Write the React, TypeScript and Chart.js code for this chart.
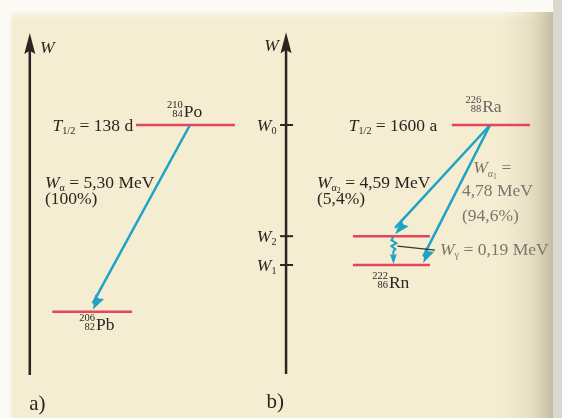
import React, { useEffect, useRef } from "react";
import { Chart, registerables } from "chart.js";

Chart.register(...registerables);

// ---- Data (schematic diagram units: x = horizontal position 0–100, y = energy W 0–100) ----
const panelNames = ["a)", "b)"];
const axisX = [5.3, 50.9];
const axisMin = [10.3, 10.5];
const axisMax = [92.1, 92.3];

// energy levels: 0 Po-210, 1 Pb-206, 2 Ra-226, 3 Rn-222 (excited), 4 Rn-222
const levelW = [70.1, 25.4, 70.1, 43.5, 36.6];
const levelStart = [24.2, 9.3, 80.4, 62.8, 62.8];
const levelEnd = [41.8, 23.5, 94.3, 76.5, 76.5];

// alpha transitions
const alphaFrom = [0, 2, 2];
const alphaTo = [1, 3, 4];
const alphaStartX = [33.8, 87.2, 87.2];
const alphaEndX = [16.5, 70.3, 75.3];
const alphaEnergy = ["5,30", "4,59", "4,78"];
const alphaShare = ["100%", "5,4%", "94,6%"];

// gamma transition
const gammaX = [70.0];
const gammaFrom = [3];
const gammaTo = [4];
const gammaEnergy = ["0,19"];

const halfLives = ["138 d", "1600 a"];
const nuclideSymbol = ["Po", "Pb", "Ra", "Rn"];
const nuclideA = ["210", "206", "226", "222"];
const nuclideZ = ["84", "82", "88", "86"];
const tickLevel = [2, 3, 4];
const tickIndex = ["0", "2", "1"];

const RED = "#e2465f";
const CYAN = "#1ea3c4";
const INK = "#2b2521";
const GREY = "#7a766d";
const SERIF = '"Liberation Serif", "DejaVu Serif", serif';
const FS = 17.5;

type Seg = { t: string; it?: boolean; lvl?: number };

function segFont(s: Seg, size: number) {
  const l = s.lvl || 0;
  const fs = l === 0 ? size : l === 1 ? size * 0.58 : size * 0.45;
  return { font: `${s.it ? "italic " : ""}${fs}px ${SERIF}`, dy: l === 0 ? 0 : l === 1 ? size * 0.18 : size * 0.3 };
}

function drawRich(ctx: CanvasRenderingContext2D, x: number, y: number, segs: Seg[], color: string, align = "left", size = FS) {
  let total = 0;
  const widths: number[] = [];
  for (const s of segs) {
    ctx.font = segFont(s, size).font;
    const w = ctx.measureText(s.t).width;
    widths.push(w);
    total += w;
  }
  let cx = align === "right" ? x - total : align === "center" ? x - total / 2 : x;
  ctx.fillStyle = color;
  ctx.textBaseline = "alphabetic";
  ctx.textAlign = "left";
  segs.forEach((s, i) => {
    const f = segFont(s, size);
    ctx.font = f.font;
    ctx.fillText(s.t, cx, y + f.dy);
    cx += widths[i];
  });
}

function drawNuclide(ctx: CanvasRenderingContext2D, x: number, y: number, i: number, color: string, numColor = color) {
  ctx.textBaseline = "alphabetic";
  ctx.font = `${FS}px ${SERIF}`;
  ctx.fillStyle = color;
  ctx.textAlign = "left";
  ctx.fillText(nuclideSymbol[i], x, y);
  ctx.font = `10.5px ${SERIF}`;
  ctx.textAlign = "right";
  ctx.fillStyle = numColor;
  ctx.fillText(nuclideA[i], x - 1, y - 9);
  ctx.fillText(nuclideZ[i], x - 1, y);
}

function arrowHead(ctx: CanvasRenderingContext2D, x0: number, y0: number, x1: number, y1: number, len: number, half: number, color: string) {
  const a = Math.atan2(y1 - y0, x1 - x0);
  ctx.fillStyle = color;
  ctx.beginPath();
  ctx.moveTo(x1, y1);
  ctx.lineTo(x1 - len * Math.cos(a) + half * Math.sin(a), y1 - len * Math.sin(a) - half * Math.cos(a));
  ctx.lineTo(x1 - len * Math.cos(a) * 0.85, y1 - len * Math.sin(a) * 0.85);
  ctx.lineTo(x1 - len * Math.cos(a) - half * Math.sin(a), y1 - len * Math.sin(a) + half * Math.cos(a));
  ctx.closePath();
  ctx.fill();
}

const diagramPlugin = {
  id: "decayDiagram",
  beforeDraw(chart: any) {
    const { ctx, width, height } = chart;
    ctx.save();
    ctx.fillStyle = "#fbfaf5";
    ctx.fillRect(0, 0, width, height);
    ctx.fillStyle = "#f4edd2";
    ctx.fillRect(10, 12, width - 10, height - 12);
    const tg = ctx.createLinearGradient(0, 8, 0, 20);
    tg.addColorStop(0, "rgba(251,250,245,1)");
    tg.addColorStop(1, "rgba(251,250,245,0)");
    ctx.fillStyle = tg;
    ctx.fillRect(0, 8, width, 12);
    const lg = ctx.createLinearGradient(6, 0, 14, 0);
    lg.addColorStop(0, "rgba(251,250,245,1)");
    lg.addColorStop(1, "rgba(251,250,245,0)");
    ctx.fillStyle = lg;
    ctx.fillRect(6, 0, 8, height);
    const rg = ctx.createLinearGradient(500, 0, 553, 0);
    rg.addColorStop(0, "rgba(226,216,186,0)");
    rg.addColorStop(0.6, "rgba(215,205,175,0.5)");
    rg.addColorStop(1, "rgba(190,182,156,0.9)");
    ctx.fillStyle = rg;
    ctx.fillRect(500, 12, 53, height - 12);
    ctx.fillStyle = "#d9d7cf";
    ctx.fillRect(553, 0, width - 553, height);
    ctx.restore();
  },
  afterDatasetsDraw(chart: any) {
    const { ctx } = chart;
    const xs = chart.scales.x;
    const ys = chart.scales.y;
    const X = (v: number) => xs.getPixelForValue(v);
    const Y = (v: number) => ys.getPixelForValue(v);
    ctx.save();

    // axis arrowheads
    axisX.forEach((ax, i) => {
      arrowHead(ctx, X(ax), Y(axisMin[i]), X(ax), Y(axisMax[i]), 21, 5.5, INK);
    });

    // alpha arrowheads
    alphaFrom.forEach((f, i) => {
      arrowHead(ctx, X(alphaStartX[i]), Y(levelW[f]), X(alphaEndX[i]), Y(levelW[alphaTo[i]]) - 2, 15, 5, CYAN);
    });

    // gamma wiggle
    gammaX.forEach((gx, i) => {
      const x = X(gx);
      const top = Y(levelW[gammaFrom[i]]) + 1;
      const bot = Y(levelW[gammaTo[i]]) - 1;
      ctx.strokeStyle = CYAN;
      ctx.lineWidth = 2;
      ctx.beginPath();
      ctx.moveTo(x, top);
      ctx.lineTo(x - 2, top + 3);
      ctx.lineTo(x + 3, top + 6);
      ctx.lineTo(x - 2, top + 9);
      ctx.lineTo(x + 2, top + 12);
      ctx.lineTo(x, top + 14);
      ctx.lineTo(x, bot - 6);
      ctx.stroke();
      arrowHead(ctx, x, top + 14, x, bot, 10, 3.5, CYAN);
      // connector to label
      ctx.strokeStyle = "#3a3430";
      ctx.lineWidth = 1.4;
      ctx.beginPath();
      ctx.moveTo(x + 4, top + 9);
      ctx.lineTo(X(77.4), top + 13);
      ctx.stroke();
    });

    // ticks on axis b
    tickLevel.forEach((l) => {
      ctx.strokeStyle = INK;
      ctx.lineWidth = 2;
      ctx.beginPath();
      ctx.moveTo(X(axisX[1]) - 6, Y(levelW[l]));
      ctx.lineTo(X(axisX[1]) + 7, Y(levelW[l]));
      ctx.stroke();
    });

    // ---- texts ----
    drawRich(ctx, X(7.1), Y(87.4), [{ t: "W", it: true }], INK);
    drawRich(ctx, X(49.6), Y(87.7), [{ t: "W", it: true }], INK, "right");
    tickLevel.forEach((l, i) => {
      drawRich(ctx, X(49.2), Y(levelW[l]) + 5.6, [{ t: "W", it: true }, { t: tickIndex[i], lvl: 1 }], INK, "right");
    });
    drawRich(ctx, X(5.2), Y(1.8), [{ t: panelNames[0] }], INK, "left", 21);
    drawRich(ctx, X(47.4), Y(2.3), [{ t: panelNames[1] }], INK, "left", 21);

    // panel a
    drawRich(ctx, X(23.7), Y(levelW[0]) + 5.6, [{ t: "T", it: true }, { t: "1/2", lvl: 1 }, { t: " = " + halfLives[0] }], INK, "right");
    drawNuclide(ctx, X(32.7), Y(72.1), 0, INK);
    drawRich(ctx, X(8.0), Y(55.1), [{ t: "W", it: true }, { t: "α", lvl: 1 }, { t: " = " + alphaEnergy[0] + " MeV" }], INK);
    drawRich(ctx, X(8.0), Y(51.1), [{ t: "(" + alphaShare[0] + ")" }], INK);
    drawNuclide(ctx, X(17.1), Y(21.1), 1, INK);

    // panel b
    drawRich(ctx, X(77.8), Y(levelW[2]) + 5.6, [{ t: "T", it: true }, { t: "1/2", lvl: 1 }, { t: " = " + halfLives[1] }], INK, "right");
    drawNuclide(ctx, X(85.8), Y(73.2), 2, "#6e6961", "#4a4540");
    drawRich(ctx, X(56.4), Y(55.1), [{ t: "W", it: true }, { t: "α", lvl: 1 }, { t: "2", lvl: 2 }, { t: " = " + alphaEnergy[1] + " MeV" }], INK);
    drawRich(ctx, X(56.4), Y(51.3), [{ t: "(" + alphaShare[1] + ")" }], INK);
    drawRich(ctx, X(84.2), Y(58.5), [{ t: "W", it: true }, { t: "α", lvl: 1 }, { t: "1", lvl: 2 }, { t: " =" }], GREY);
    drawRich(ctx, X(82.2), Y(53.2), [{ t: alphaEnergy[2] + " MeV" }], GREY);
    drawRich(ctx, X(82.2), Y(47.2), [{ t: "(" + alphaShare[2] + ")" }], GREY);
    drawRich(ctx, X(78.3), Y(39.1), [{ t: "W", it: true }, { t: "γ", lvl: 1 }, { t: " = " + gammaEnergy[0] + " MeV" }], GREY);
    drawNuclide(ctx, X(69.2), Y(31.2), 3, INK);

    ctx.restore();
  },
};

function line(points: { x: number; y: number }[], color: string, width: number) {
  return {
    data: points,
    showLine: true,
    borderColor: color,
    backgroundColor: color,
    borderWidth: width,
    pointRadius: 0,
    borderCapStyle: "butt" as const,
  };
}

export default function App() {
  const ref = useRef<HTMLCanvasElement | null>(null);
  useEffect(() => {
    if (!ref.current) return;
    const datasets: any[] = [];
    axisX.forEach((ax, i) => datasets.push(line([{ x: ax, y: axisMin[i] }, { x: ax, y: axisMax[i] - 3 }], INK, 2.5)));
    levelW.forEach((w, i) => datasets.push(line([{ x: levelStart[i], y: w }, { x: levelEnd[i], y: w }], RED, 2.5)));
    alphaFrom.forEach((f, i) =>
      datasets.push(line([{ x: alphaStartX[i], y: levelW[f] }, { x: alphaEndX[i], y: levelW[alphaTo[i]] + 2 }], CYAN, 2.5))
    );
    const chart = new Chart(ref.current, {
      type: "scatter",
      data: { datasets },
      options: {
        animation: false,
        responsive: false,
        devicePixelRatio: 1,
        layout: { padding: 0 },
        plugins: { legend: { display: false }, tooltip: { enabled: false } },
        scales: {
          x: { type: "linear", min: 0, max: 100, display: false },
          y: { type: "linear", min: 0, max: 100, display: false },
        },
      },
      plugins: [diagramPlugin],
    });
    return () => chart.destroy();
  }, []);
  return (
    <div style={{ position: "fixed", left: 0, top: 0, width: 562, height: 418 }}>
      <canvas ref={ref} width={562} height={418} />
    </div>
  );
}
